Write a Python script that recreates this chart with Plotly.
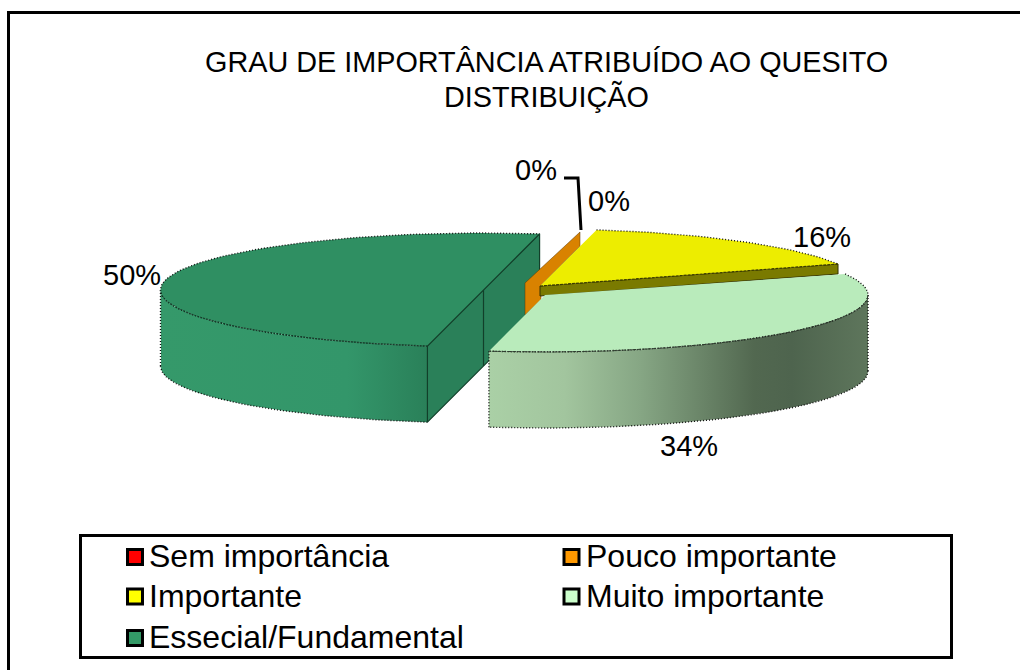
import numpy as np
import plotly.graph_objects as go

# ---- data ----
categories = ["Sem importância", "Pouco importante", "Importante", "Muito importante", "Essecial/Fundamental"]
values = [0.0, 0.3, 15.9, 33.8, 50.0]
labels = ["0%", "0%", "16%", "34%", "50%"]

title_lines = ["GRAU DE IMPORTÂNCIA ATRIBUÍDO AO QUESITO", "DISTRIBUIÇÃO"]

# ---- styling / projection ----
top_colors = ["#FF0000", "#D98200", "#EDED00", "#B9EBBB", "#2F8F62"]
legend_colors = ["#FF0000", "#FF9900", "#FFFF00", "#CCFFCC", "#339966"]
centers = [(526, 288), (526, 288), (540, 286), (545, 295), (483.5, 290)]
angle_nudge = [-1, -1, -1, 0, 0]
RX, RY, DEPTH = 323, 57, 76
START_DEG = 10.0
FONT = "Liberation Sans, Arial, sans-serif"

fig = go.Figure()


def pts(cx, cy, a0, a1, n=90):
    t = np.radians(np.linspace(a0, a1, n))
    return cx + RX * np.sin(t), cy - RY * np.cos(t)


def poly(x, y, fill=None, line=None, width=1, dash="solid", grad=None, close=True):
    x, y = list(x), list(y)
    if close:
        x, y = x + x[:1], y + y[:1]
    kw = dict(x=x, y=y, mode="lines", hoverinfo="skip", showlegend=False)
    kw["line"] = dict(color=line or "rgba(0,0,0,0)", width=width, dash=dash)
    if fill or grad:
        kw["fill"] = "toself"
        kw["fillcolor"] = fill or "rgba(0,0,0,0)"
    if grad:
        kw["fillgradient"] = dict(type="horizontal", colorscale=grad)
    fig.add_trace(go.Scatter(**kw))


# angular spans from the values
fracs = np.array(values) / sum(values)
edges = START_DEG + np.concatenate([[0], np.cumsum(fracs) * 360])
spans = [(edges[i] + angle_nudge[i], edges[i + 1] + angle_nudge[i]) for i in range(len(values))]

DOT = dict(line="#111111", width=1.4, dash="1px,2px")

# --- Essencial (back / left) ---
i = 4
cx, cy = centers[i]
a0, a1 = spans[i]
ax, ay = pts(cx, cy, a0, a1)
p0 = (ax[0], ay[0])
p1 = (ax[-1], ay[-1])
# cut wall (diameter face)
poly([p0[0], p1[0], p1[0], p0[0]], [p0[1], p1[1], p1[1] + DEPTH, p0[1] + DEPTH],
     fill="#2A8059", line="#123f2a", width=1.2)
poly([cx, cx], [cy, cy + DEPTH], line="#123f2a", width=1.2, close=False)
# outer wall
fx, fy = pts(cx, cy, a0, 270)
poly(list(fx) + list(fx[::-1]), list(fy) + list(fy[::-1] + DEPTH),
     grad=[[0, "#35996A"], [0.7, "#33966A"], [1, "#2A8059"]])
poly(fx, fy + DEPTH, close=False, **DOT)
poly([p0[0], p0[0]], [p0[1], p0[1] + DEPTH], line="#123f2a", width=1.2, close=False)
poly([fx[-1], fx[-1]], [fy[-1], fy[-1] + DEPTH], close=False, **DOT)
# top
poly(list(ax) + [cx], list(ay) + [cy], fill=top_colors[i])
poly(ax, ay, close=False, **DOT)
poly(fx, fy, line="#123f2a", width=1, dash="2px,1px", close=False)
poly([p0[0], p1[0]], [p0[1], p1[1]], line="#123f2a", width=1.2, close=False)

# --- Pouco importante (thin orange wedge, seen from its side) ---
poly([525, 580, 580, 541, 541, 525], [283, 232, 246, 285, 300, 315],
     fill=top_colors[1], line="#5a3600", width=0.5)

# --- Importante (yellow) ---
i = 2
cx, cy = centers[i]
a0, a1 = spans[i]
ax, ay = pts(cx, cy, a0, a1, 40)
ww = 10
poly([cx, ax[-1], ax[-1], cx], [cy, ay[-1], ay[-1] + ww, cy + ww],
     fill="#7A7A00", line="#333300", width=1)
poly(list(ax) + [cx], list(ay) + [cy], fill=top_colors[i])
poly(ax, ay, close=False, **DOT)
poly([cx, ax[-1]], [cy, ay[-1]], line="#3a3a00", width=1.2, dash="3px,1px", close=False)

# --- Muito importante (light green) ---
i = 3
cx, cy = centers[i]
a0, a1 = spans[i]
ax, ay = pts(cx, cy, a0, a1, 90)
fx, fy = pts(cx, cy, 90, a1, 70)
poly(list(fx) + list(fx[::-1]), list(fy) + list(fy[::-1] + DEPTH),
     grad=[[0, "#AAD0A6"], [0.2, "#A2C59E"], [0.4, "#86A684"], [0.7, "#526850"],
           [0.8, "#4E644E"], [1, "#5E765C"]])
poly(fx, fy + DEPTH, close=False, **DOT)
poly([fx[0], fx[0]], [fy[0], fy[0] + DEPTH], close=False, **DOT)
poly([fx[-1], fx[-1]], [fy[-1], fy[-1] + DEPTH], close=False, **DOT)
poly(list(ax) + [cx], list(ay) + [cy], fill=top_colors[i])
poly(ax, ay, close=False, **DOT)
poly(fx, fy, line="#2c3a2c", width=1, dash="4px,1px", close=False)

# leader line
poly([564, 578, 581], [178, 178, 230], line="#000000", width=3, close=False)

# --- frame ---
fig.add_shape(type="line", x0=7, x1=1020, y0=12.5, y1=12.5, line=dict(color="#000", width=3))
fig.add_shape(type="line", x0=8.5, x1=8.5, y0=11, y1=670, line=dict(color="#000", width=3))
fig.add_shape(type="rect", x0=80.5, x1=951.5, y0=535.5, y1=657.5, line=dict(color="#000", width=3))

# --- legend ---
leg_x = [135, 571.5, 135, 571.5, 135]
leg_y = [557, 557, 596.5, 596.5, 638]
for c, col, lx, ly in zip(categories, legend_colors, leg_x, leg_y):
    fig.add_trace(go.Scatter(x=[lx], y=[ly], mode="markers", hoverinfo="skip", showlegend=False,
                             marker=dict(symbol="square", size=15, color=col,
                                         line=dict(color="#000", width=3))))
    fig.add_annotation(x=lx + 12, y=ly - 1, text=c, showarrow=False, xanchor="left", yanchor="middle",
                       font=dict(family=FONT, size=32, color="#000"))

# --- title ---
for line, y in zip(title_lines, [62, 96]):
    fig.add_annotation(x=546, y=y, text=line, showarrow=False, xanchor="center", yanchor="middle",
                       font=dict(family=FONT, size=28.8, color="#000"))

# --- data labels ---
label_pos = [(536, 170), (609, 201), (822, 237), (689, 446), (132, 275)]
for lab, (lx, ly) in zip(labels, label_pos):
    fig.add_annotation(x=lx, y=ly, text=lab, showarrow=False, xanchor="center", yanchor="middle",
                       font=dict(family=FONT, size=29, color="#000"))

fig.update_layout(
    width=1020, height=670, margin=dict(l=0, r=0, t=0, b=0),
    paper_bgcolor="white", plot_bgcolor="white", showlegend=False,
    xaxis=dict(range=[0, 1020], visible=False, fixedrange=True),
    yaxis=dict(range=[670, 0], visible=False, fixedrange=True),
)
fig.write_html("out.html", config={"displayModeBar": False},
               post_script="document.body.style.margin='0';document.documentElement.style.overflow='hidden';")
